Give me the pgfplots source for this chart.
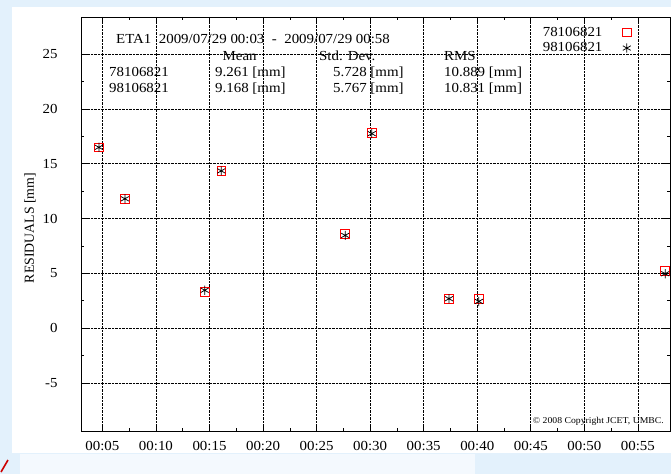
\documentclass[border=0pt]{standalone}
\usepackage{fontspec}
\setmainfont{Liberation Serif}[FakeStretch=1.08]
\newfontfamily\plainserif{Liberation Serif}
\usepackage{pgfplots}
\pgfplotsset{compat=1.18}
\definecolor{bgblue}{HTML}{E3F1FC}
\definecolor{bglight}{HTML}{F4F9FE}
\newcommand{\stat}{\fontsize{13.8}{16}\selectfont}
\begin{document}
\begin{tikzpicture}
\useasboundingbox (0pt,0pt) rectangle (671pt,474pt);
\fill[bgblue] (0pt,0pt) rectangle (671pt,474pt);
\fill[white] (12pt,21pt) rectangle (671pt,467pt);
\fill[bglight] (20pt,0pt) rectangle (475pt,20pt);
\draw[red!80!black, line width=1.6pt] (1pt,2pt) -- (8pt,14pt);
\begin{axis}[
  at={(81pt,43pt)}, anchor=south west,
  width=589pt, height=414pt, scale only axis,
  xmin=3, xmax=58, ymin=-9.4, ymax=28.4,
  xtick={5,10,...,55},
  xticklabels={00:05,00:10,00:15,00:20,00:25,00:30,00:35,00:40,00:45,00:50,00:55},
  ytick={-5,0,...,25},
  minor x tick num=1, minor y tick num=1,
  tick align=inside,
  major tick length=6pt, minor tick length=3pt,
  tick style={black, line width=0.6pt},
  axis line style={black, line width=0.8pt},
  grid=major,
  major grid style={black, densely dotted, line width=0.6pt},
  /pgf/number format/assume math mode=true,
  tick label style={font=\stat},
  yticklabel style={xshift=-20pt},
  xticklabel style={yshift=-7pt},
  clip=false,
  legend style={draw=none, fill=none, font=\stat, at={(0.9345,0.981)}, anchor=north east,
    legend cell align=left, row sep=1pt, column sep=18pt, inner sep=0pt},
  legend plot pos=right,
]
\addplot[only marks, mark=square, mark size=4.4pt, mark options={draw=red, line width=0.6pt, fill=none}]
  coordinates {(4.67,16.5) (7.1,11.78) (14.55,3.29) (16.1,14.37) (27.67,8.61) (30.15,17.86) (37.36,2.68) (40.15,2.68) (57.55,5.26)};
\addlegendentry{78106821}
\addplot[only marks, mark=asterisk, mark size=4.6pt, mark options={draw=black, line width=0.75pt}]
  coordinates {(4.67,16.5) (7.1,11.8) (14.55,3.45) (16.1,14.35) (27.67,8.46) (30.15,17.75) (37.36,2.68) (40.15,2.43) (57.55,4.96)};
\addlegendentry{98106821}
\end{axis}
\node[anchor=base west, font=\stat, inner sep=0pt] at (116pt,430.5pt) {ETA1\ \ 2009/07/29 00:03\ \ -\ \ 2009/07/29 00:58};
\node[anchor=base west, font=\stat, inner sep=0pt] at (222.5pt,413.5pt) {Mean};
\node[anchor=base west, font=\stat, inner sep=0pt] at (319pt,413.5pt) {Std. Dev.};
\node[anchor=base west, font=\stat, inner sep=0pt] at (444pt,413.5pt) {RMS};
\node[anchor=base west, font=\stat, inner sep=0pt] at (109pt,397.5pt) {78106821};
\node[anchor=base west, font=\stat, inner sep=0pt] at (215pt,397.5pt) {9.261 [mm]};
\node[anchor=base west, font=\stat, inner sep=0pt] at (333pt,397.5pt) {5.728 [mm]};
\node[anchor=base west, font=\stat, inner sep=0pt] at (444pt,397.5pt) {10.889 [mm]};
\node[anchor=base west, font=\stat, inner sep=0pt] at (109pt,381.5pt) {98106821};
\node[anchor=base west, font=\stat, inner sep=0pt] at (215pt,381.5pt) {9.168 [mm]};
\node[anchor=base west, font=\stat, inner sep=0pt] at (333pt,381.5pt) {5.767 [mm]};
\node[anchor=base west, font=\stat, inner sep=0pt] at (444pt,381.5pt) {10.831 [mm]};
\node[anchor=east, font=\fontsize{9}{11}\selectfont, inner sep=0pt] at (664pt,53pt) {\textcopyright\ 2008 Copyright JCET, UMBC.};
\node[rotate=90, font=\plainserif\fontsize{13.8}{16}\selectfont, inner sep=0pt] at (30pt,246pt) {RESIDUALS [mm]};
\end{tikzpicture}
\end{document}
